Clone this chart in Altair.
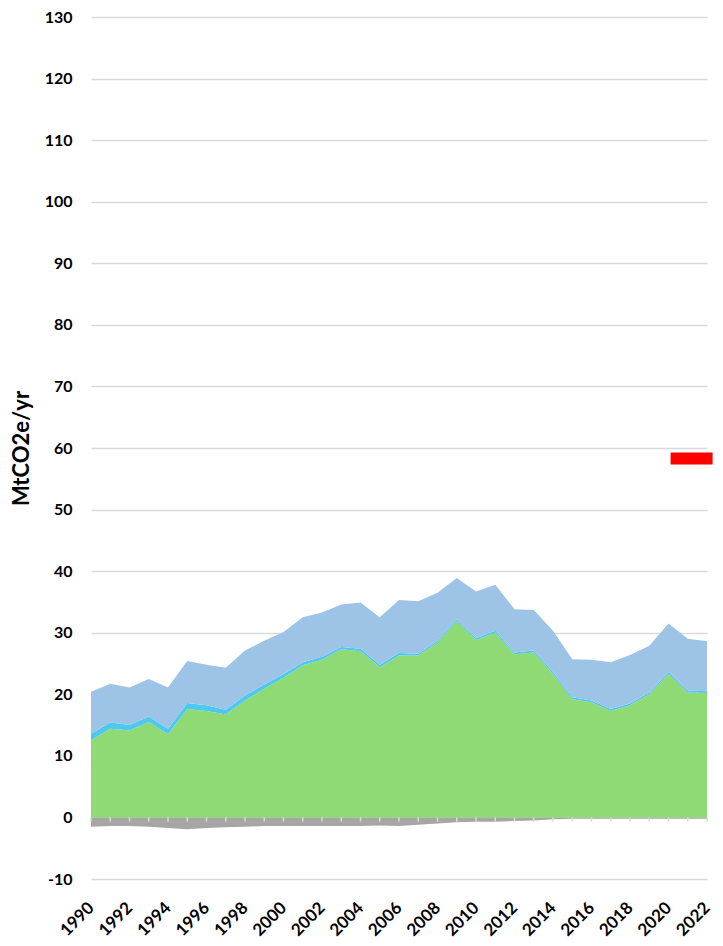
import altair as alt
import pandas as pd

years = list(range(1990, 2023))

green = [12.5, 14.4, 14.1, 15.5, 13.5, 17.6, 17.3, 16.7, 19.0, 20.9, 22.7,
         24.7, 25.6, 27.3, 27.0, 24.4, 26.3, 26.3, 28.4, 31.9, 28.8, 30.0,
         26.5, 26.8, 23.3, 19.2, 18.7, 17.3, 18.2, 20.0, 23.3, 20.3, 20.2]

cyan = [1.1, 1.0, 0.9, 0.9, 0.9, 1.0, 0.9, 0.8, 0.8, 0.7, 0.6,
        0.5, 0.5, 0.4, 0.4, 0.4, 0.4, 0.3, 0.3, 0.3, 0.3, 0.3,
        0.3, 0.3, 0.3, 0.3, 0.3, 0.3, 0.3, 0.3, 0.3, 0.3, 0.3]

blue = [6.8, 6.3, 6.1, 6.1, 6.7, 6.8, 6.6, 6.8, 7.3, 7.1, 6.8,
        7.3, 7.2, 6.9, 7.5, 7.7, 8.6, 8.5, 7.8, 6.7, 7.6, 7.5,
        7.0, 6.6, 6.7, 6.2, 6.6, 7.6, 7.9, 7.6, 7.9, 8.4, 8.1]

gray = [-1.5, -1.4, -1.4, -1.5, -1.7, -1.9, -1.7, -1.6, -1.5, -1.4, -1.4,
        -1.4, -1.4, -1.4, -1.4, -1.3, -1.4, -1.2, -1.0, -0.8, -0.7, -0.7,
        -0.6, -0.5, -0.3, -0.2, -0.2, -0.2, -0.2, -0.2, -0.2, -0.2, -0.2]

series_names = ["Removals", "Main", "Minor", "Other"]
series_colors = ["#A6A6A6", "#8FDA74", "#4FC8EE", "#9DC3E6"]
series_values = [gray, green, cyan, blue]

year_labels = list(range(1990, 2023, 2))
y_ticks = list(range(-10, 131, 10))

target_year = [2021.2]
target_value = [58.3]

rows = []
for k, (name, vals) in enumerate(zip(series_names, series_values)):
    for yr, v in zip(years, vals):
        rows.append({"year": yr, "value": v, "series": name, "order": k})
df = pd.DataFrame(rows)

tick_df = pd.DataFrame({"year": years})
target_df = pd.DataFrame({"year": target_year, "value": target_value})

FONT = "Lato"

x_scale = alt.Scale(domain=[1990, 2022], nice=False, zero=False)
y_scale = alt.Scale(domain=[-10, 130], nice=False)

x_axis = alt.Axis(values=year_labels, format="d", labelAngle=-45,
                  labelAlign="right", labelBaseline="middle",
                  labelPadding=26, labelFontSize=17,
                  labelFontWeight="bold", labelColor="#000000",
                  labelFont=FONT, grid=False, domain=False,
                  ticks=False, title=None, labelOverlap=False,
                  labelFlush=False, labelBound=False)
y_axis = alt.Axis(values=y_ticks, grid=True, gridColor="#D9D9D9",
                  gridWidth=1.5, domain=False, ticks=False,
                  labelExpr="datum.value < 0 ? '-' + abs(datum.value) : '' + datum.value",
                  labelFontSize=16, labelFontWeight="bold",
                  labelColor="#000000", labelFont=FONT,
                  labelPadding=19, title="MtCO2e/yr",
                  titleFont=FONT, titleFontSize=22,
                  titleFontWeight="bold", titleColor="#000000",
                  titlePadding=11)

areas = alt.Chart(df).mark_area(interpolate="linear").encode(
    x=alt.X("year:Q", scale=x_scale, axis=x_axis),
    y=alt.Y("value:Q", stack="zero", scale=y_scale, axis=y_axis),
    color=alt.Color("series:N",
                    scale=alt.Scale(domain=series_names, range=series_colors),
                    legend=None),
    order=alt.Order("order:Q"),
)

ticks = alt.Chart(tick_df).mark_rule(color="#D9D9D9", strokeWidth=1.5).encode(
    x=alt.X("year:Q", scale=x_scale, axis=x_axis),
    y=alt.datum(0, scale=y_scale, axis=y_axis),
    y2=alt.datum(-0.7),
)

target = alt.Chart(target_df).mark_tick(
    color="#FF0000", orient="horizontal", size=42, thickness=12, opacity=1
).encode(
    x=alt.X("year:Q", scale=x_scale, axis=x_axis),
    y=alt.Y("value:Q", scale=y_scale, axis=y_axis),
)

chart = alt.layer(areas, ticks, target).properties(
    width=616,
    height=862,
    autosize=alt.AutoSizeParams(type="none"),
    padding={"left": 83, "top": 9, "right": 8, "bottom": 65},
).configure_view(stroke=None)

chart.save("out.html", embed_options={"renderer": "svg", "actions": False})
